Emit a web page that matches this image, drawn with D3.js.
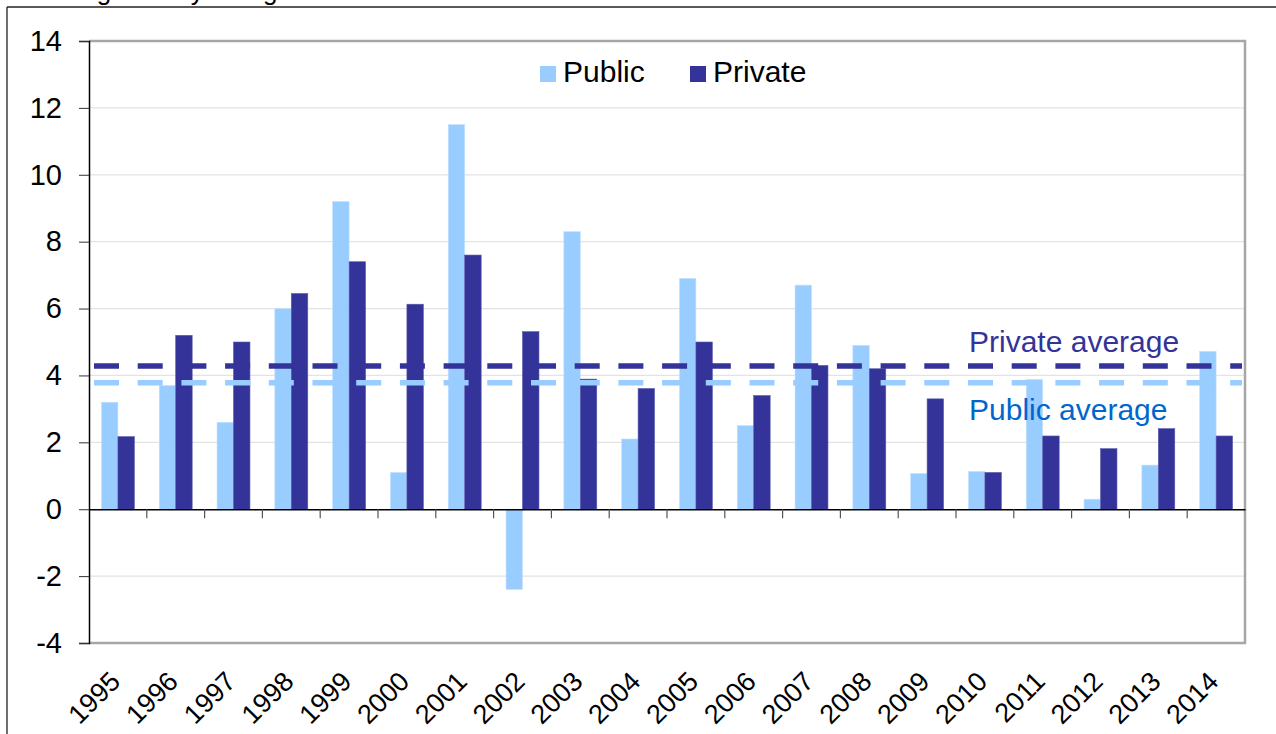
<!DOCTYPE html>
<html>
<head>
<meta charset="utf-8">
<script src="https://cdn.jsdelivr.net/npm/d3@7"></script>
<style>
  html, body { margin: 0; padding: 0; background: #fff; }
  svg { display: block; font-family: Arial, "Liberation Sans", sans-serif; }
</style>
</head>
<body>
<svg id="chart" width="1276" height="734"></svg>
<script>
// Annual % change, public vs private sector
const years = ["1995","1996","1997","1998","1999","2000","2001","2002","2003","2004",
               "2005","2006","2007","2008","2009","2010","2011","2012","2013","2014"];
const publicValues  = [3.2, 3.7, 2.6, 6.0, 9.2, 1.1, 11.5, -2.4, 8.3, 2.1,
                       6.9, 2.5, 6.7, 4.9, 1.07, 1.13, 3.88, 0.3, 1.32, 4.72];
const privateValues = [2.17, 5.2, 5.0, 6.45, 7.4, 6.13, 7.6, 5.31, 3.89, 3.61,
                       5.0, 3.4, 4.3, 4.2, 3.3, 1.1, 2.19, 1.81, 2.41, 2.19];
const publicAverage = 3.78;
const privateAverage = 4.28;
const yTicks = [-4, -2, 0, 2, 4, 6, 8, 10, 12, 14];
const seriesNames = ["Public", "Private"];
const colors = { Public: "#99CCFF", Private: "#333399" };

const svg = d3.select("#chart");
const plot = { left: 89, right: 1245, top: 41, bottom: 643 };

const x = d3.scaleBand().domain(years).range([plot.left, plot.right]).paddingInner(0.43).paddingOuter(0.215);
const xs = d3.scaleBand().domain(seriesNames).range([0, x.bandwidth()]);
const y = d3.scaleLinear().domain([-4, 14]).range([plot.bottom, plot.top]);

// Outer frame lines and the unit caption running off the top edge
svg.append("text").attr("x", 10).attr("y", 0).attr("font-size", 26).attr("fill", "#000")
  .text("% change on a year ago");
svg.append("line").attr("x1", 7).attr("x2", 1276).attr("y1", 7).attr("y2", 7)
  .attr("stroke", "#222").attr("stroke-width", 1.3);
svg.append("line").attr("x1", 7).attr("x2", 7).attr("y1", 7).attr("y2", 734)
  .attr("stroke", "#222").attr("stroke-width", 1.3);

// Gridlines
svg.append("g").selectAll("line").data(yTicks.filter(t => t !== 0 && t !== 14 && t !== -4)).join("line")
  .attr("x1", plot.left).attr("x2", plot.right)
  .attr("y1", d => y(d)).attr("y2", d => y(d))
  .attr("stroke", "#E3E3E3").attr("stroke-width", 1.2);

// Plot area border (top, right, bottom)
svg.append("path")
  .attr("d", `M${plot.left},${plot.top}H${plot.right}V${plot.bottom}H${plot.left}`)
  .attr("fill", "none").attr("stroke", "#A6A6A6").attr("stroke-width", 2.5);

// Bars
const groups = svg.append("g").selectAll("g").data(years).join("g")
  .attr("transform", d => `translate(${x(d)},0)`);
groups.selectAll("rect")
  .data((d, i) => [
    { key: "Public", value: publicValues[i] },
    { key: "Private", value: privateValues[i] }
  ])
  .join("rect")
  .attr("x", d => xs(d.key))
  .attr("width", xs.bandwidth())
  .attr("y", d => y(Math.max(0, d.value)))
  .attr("height", d => Math.abs(y(d.value) - y(0)))
  .attr("fill", d => colors[d.key])
  .attr("stroke", d => d.key === "Public" ? "#C4E2FF" : "#5A5AAE")
  .attr("stroke-width", 0.6);

// Average lines
const avgs = [
  { value: privateAverage, color: "#333399" },
  { value: publicAverage, color: "#99CCFF" }
];
svg.append("g").selectAll("line").data(avgs).join("line")
  .attr("x1", 94).attr("x2", plot.right - 3)
  .attr("y1", d => y(d.value)).attr("y2", d => y(d.value))
  .attr("stroke", d => d.color).attr("stroke-width", 5.5)
  .attr("stroke-dasharray", "25,18.7");

svg.append("text").attr("x", 969).attr("y", 352).attr("font-size", 30)
  .attr("fill", "#333399").text("Private average");
svg.append("text").attr("x", 969).attr("y", 420).attr("font-size", 30)
  .attr("fill", "#0066CC").text("Public average");

// Y axis
const yAxis = svg.append("g").attr("transform", `translate(${plot.left},0)`)
  .call(d3.axisLeft(y).tickValues(yTicks).tickSize(10).tickPadding(17).tickFormat(d => String(d)));
yAxis.attr("font-size", null).attr("font-family", null);
yAxis.select(".domain").attr("stroke", "#000").attr("stroke-width", 1.5);
yAxis.selectAll(".tick line").attr("stroke", "#333");
yAxis.selectAll("text").style("font-size", "29px").attr("fill", "#000");

// X axis along zero
const xAxis = svg.append("g").attr("transform", `translate(0,${y(0)})`)
  .call(d3.axisBottom(x).tickSize(0).tickFormat(""));
xAxis.select(".domain").attr("stroke", "#000").attr("stroke-width", 1.5);
svg.append("g").selectAll("line").data(years.slice(1)).join("line")
  .attr("x1", d => x(d) - x.step() * x.paddingInner() / 2)
  .attr("x2", d => x(d) - x.step() * x.paddingInner() / 2)
  .attr("y1", y(0)).attr("y2", y(0) + 9)
  .attr("stroke", "#555").attr("stroke-width", 1.2);

// Rotated year labels below the plot
svg.append("g").selectAll("text").data(years).join("text")
  .attr("transform", d => `translate(${x(d) + x.bandwidth() / 2 + 4},${plot.bottom + 40}) rotate(-45)`)
  .attr("text-anchor", "end")
  .attr("font-size", 27)
  .attr("fill", "#000")
  .text(d => d);

// Legend
const legend = svg.append("g");
const legendItems = [
  { key: "Public", x: 540 },
  { key: "Private", x: 690 }
];
legend.selectAll("rect").data(legendItems).join("rect")
  .attr("x", d => d.x).attr("y", 66).attr("width", 16).attr("height", 16)
  .attr("fill", d => colors[d.key]);
legend.selectAll("text").data(legendItems).join("text")
  .attr("x", d => d.x + 23).attr("y", 82).attr("font-size", 30).attr("fill", "#000")
  .text(d => d.key);
</script>
</body>
</html>
